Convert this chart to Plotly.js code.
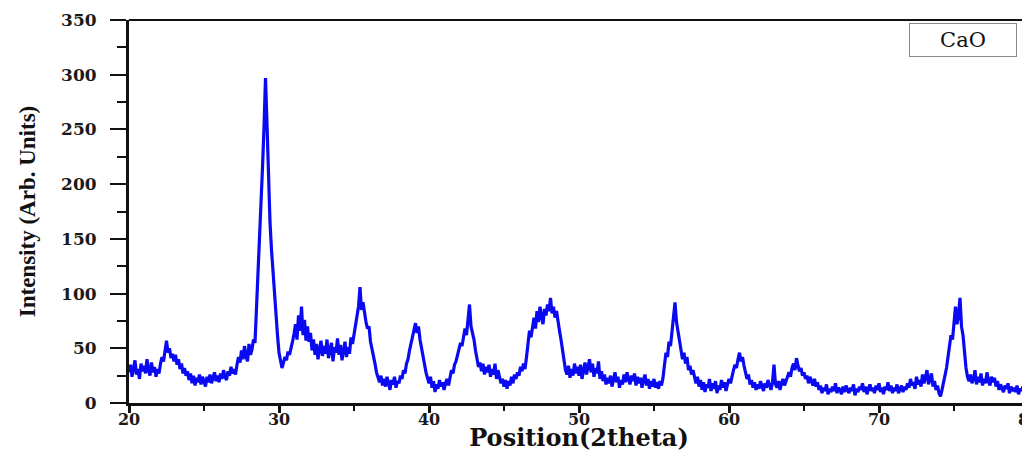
<!DOCTYPE html>
<html>
<head>
<meta charset="utf-8">
<script src="https://cdn.plot.ly/plotly-3.0.1.min.js"></script>
<style>
  html, body { margin: 0; padding: 0; background: #fff; overflow: hidden; }
  #chart { width: 1040px; height: 452px; }
</style>
</head>
<body>
<div id="chart"></div>
<script>
// Scan grid: 2theta from 20.0 to 80.0 in 0.1 degree steps
const scanStart = 20.0;
const scanStep = 0.1;

// Intensity readings (Arb. Units), 10 readings per degree
const intensity20s = [
  28, 35, 24, 33, 39, 26, 31, 22, 36, 29,
  34, 27, 40, 30, 25, 37, 28, 33, 24, 31,
  27, 36, 42, 38, 48, 57, 46, 50, 41, 45,
  38, 44, 35, 40, 31, 36, 27, 32, 25, 29,
  21, 27, 18, 25, 16, 23, 19, 26, 17, 24,
  20, 15, 24, 19, 26, 18, 23, 28, 20, 25,
  19, 27, 22, 30, 24, 21, 29, 25, 33, 27,
  31, 26, 35, 42, 37, 48, 40, 52, 43, 38,
  54, 44, 49, 58, 55, 85, 115, 150, 180, 215,
  252, 297, 255, 205, 165, 140, 118, 105, 85, 62
];
const intensity30s = [
  46, 38, 32, 37, 42, 39, 47, 44, 52, 56,
  63, 72, 58, 80, 66, 88, 62, 76, 57, 70,
  56, 64, 48, 58, 44, 54, 40, 50, 57, 43,
  52, 45, 58, 41, 49, 55, 38, 51, 46, 59,
  44, 53, 39, 48, 56, 42, 51, 45, 60, 54,
  62, 70, 78, 88, 106, 85, 92, 80, 74, 68,
  70, 56, 50, 42, 36, 28, 24, 19, 25, 16,
  22, 15, 24, 18, 12, 21, 17, 24, 14, 20,
  18, 25, 22, 30, 27, 36, 40, 48, 55, 62,
  68, 73, 64, 70, 58, 50, 42, 35, 28, 23
];
const intensity40s = [
  18, 24, 14, 20, 10, 17, 13, 21, 15, 19,
  12, 18, 22, 16, 24, 30, 27, 35, 38, 44,
  48, 55, 52, 60, 68, 62, 75, 90, 70, 64,
  58, 48, 40, 33, 37, 29, 36, 26, 33, 28,
  35, 24, 31, 26, 36, 22, 30, 25, 18, 22,
  15, 21, 13, 20, 16, 24, 18, 26, 22, 28,
  25, 33, 29, 36, 31, 42, 55, 66, 60, 72,
  78, 68, 84, 74, 88, 79, 72, 86, 80, 90,
  84, 96, 82, 88, 78, 84, 72, 66, 58, 48,
  38, 30, 26, 34, 23, 31, 25, 36, 27, 33
];
const intensity50s = [
  25, 35, 22, 30, 37, 26, 33, 40, 28, 36,
  24, 32, 27, 38, 22, 29, 20, 26, 17, 23,
  18, 25, 15, 22, 28, 19, 24, 14, 21, 17,
  26, 19, 28, 22, 17, 25, 20, 27, 16, 24,
  18, 23, 14, 21, 26, 16, 22, 13, 20, 15,
  22, 14, 19, 13, 20, 16, 23, 35, 46, 42,
  56, 52, 65, 80, 92, 74, 66, 55, 48, 40,
  46, 36, 42, 30, 34, 26, 30, 22, 18, 24,
  15, 21, 12, 19, 10, 17, 14, 22, 11, 18,
  13, 20, 9, 16, 12, 21, 14, 19, 11, 17
];
const intensity60s = [
  22, 18, 26, 30, 35, 32, 40, 46, 38, 42,
  34, 28, 22, 26, 17, 21, 14, 19, 12, 17,
  13, 20, 15, 11, 18, 14, 21, 16, 12, 19,
  35, 17, 14, 20, 12, 18, 22, 16, 21, 24,
  28, 24, 32, 36, 30, 41, 34, 29, 32, 25,
  28, 22, 25, 18, 24, 20, 16, 22, 15, 19,
  12, 16, 9, 14, 11, 17, 8, 13, 10, 15,
  11, 18, 9, 14, 12, 8, 15, 10, 16, 12,
  9, 14, 11, 17, 7, 13, 10, 15, 12, 18,
  10, 15, 8, 13, 17, 11, 14, 9, 16, 12
];
const intensity70s = [
  18, 10, 14, 8, 15, 12, 19, 11, 16, 9,
  14, 11, 17, 9, 13, 16, 10, 15, 12, 18,
  14, 22, 16, 19, 13, 24, 17, 21, 15, 26,
  18, 23, 30, 17, 22, 27, 15, 20, 12, 16,
  9, 6, 12, 18, 24, 32, 42, 55, 62, 58,
  70, 88, 72, 80, 96, 70, 62, 46, 32, 24,
  20, 26, 18, 22, 30, 17, 24, 19, 27, 16,
  22, 18, 28, 20, 16, 24, 19, 23, 15, 20,
  12, 17, 14, 10, 16, 13, 18, 9, 15, 11,
  14, 10, 16, 8, 13, 11, 15, 9, 12, 10
];
const intensity80 = [12];

const xTickVals = [20, 30, 40, 50, 60, 70, 80];
const yTickVals = [0, 50, 100, 150, 200, 250, 300, 350];
const sampleLabel = 'CaO';

const intensity = [].concat(intensity20s, intensity30s, intensity40s,
  intensity50s, intensity60s, intensity70s, intensity80);
const twoTheta = intensity.map((_, i) => +(scanStart + i * scanStep).toFixed(1));

const xTickFont = { family: 'DejaVu Serif', size: 16, color: '#1a1a1a', weight: 'bold' };
const yTickFont = { family: 'DejaVu Serif', size: 17, color: '#1a1a1a', weight: 'bold' };

const trace = {
  type: 'scatter',
  mode: 'lines',
  x: twoTheta,
  y: intensity,
  name: sampleLabel,
  line: { color: '#0a0af2', width: 3.2 },
  showlegend: false,
  hoverinfo: 'x+y'
};

const layout = {
  width: 1040,
  height: 452,
  margin: { l: 129, r: 11, t: 20, b: 49 },
  paper_bgcolor: '#ffffff',
  plot_bgcolor: '#ffffff',
  showlegend: false,
  xaxis: {
    range: [20, 80],
    tickvals: xTickVals,
    ticks: 'outside',
    ticklen: 7,
    tickwidth: 3,
    tickcolor: '#111',
    minor: { dtick: 5, tick0: 20, ticks: 'outside', ticklen: 5, tickwidth: 2, tickcolor: '#111', showgrid: false },
    showline: true,
    linewidth: 3,
    linecolor: '#111',
    showgrid: false,
    zeroline: false,
    tickfont: xTickFont,
    ticklabelstandoff: -7,
    ticklabeloverflow: 'allow',
    title: {
      text: 'Position(2theta)',
      font: { family: 'DejaVu Serif', size: 24, color: '#111', weight: 'bold' },
      standoff: 6
    },
    automargin: false
  },
  yaxis: {
    range: [0, 350],
    tickvals: yTickVals,
    ticks: 'outside',
    ticklen: 16,
    tickwidth: 2,
    tickcolor: '#111',
    minor: { dtick: 25, tick0: 0, ticks: 'outside', ticklen: 9, tickwidth: 2, tickcolor: '#111', showgrid: false },
    showline: true,
    linewidth: 3,
    linecolor: '#111',
    showgrid: false,
    zeroline: false,
    tickfont: yTickFont,
    ticklabelstandoff: 10,
    title: {
      text: 'Intensity (Arb. Units)',
      font: { family: 'Liberation Serif', size: 23, color: '#111', weight: 'bold' },
      standoff: 20
    },
    automargin: false
  },
  shapes: [
    { type: 'line', xref: 'paper', yref: 'paper', x0: 0, x1: 1, y0: 1, y1: 1,
      line: { color: '#111', width: 2 } }
  ],
  annotations: [
    {
      xref: 'paper', yref: 'paper', x: 0.9267, y: 0.9478,
      xanchor: 'center', yanchor: 'middle',
      text: sampleLabel, showarrow: false,
      width: 104, height: 30,
      font: { family: 'DejaVu Serif', size: 21, color: '#111' },
      bordercolor: '#8a8a8a', borderwidth: 1, borderpad: 1,
      bgcolor: '#ffffff'
    }
  ]
};

Plotly.newPlot('chart', [trace], layout, { displayModeBar: false, staticPlot: true });
</script>
</body>
</html>
